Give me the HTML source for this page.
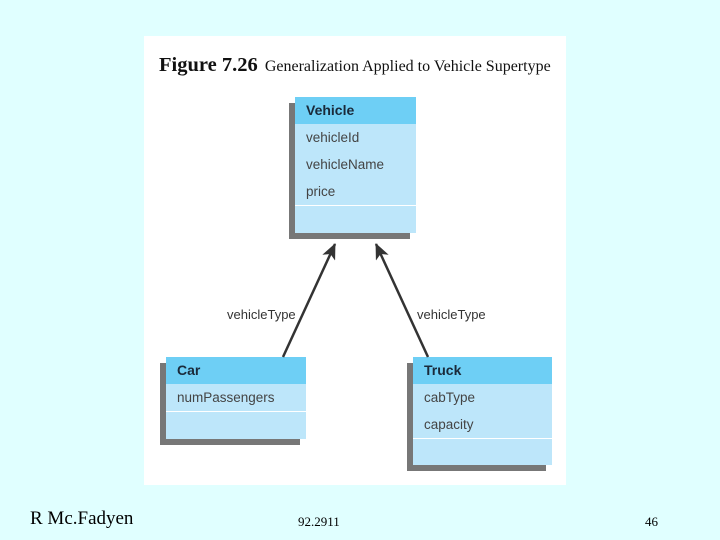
<!DOCTYPE html>
<html><head><style>
body{margin:0;width:720px;height:540px;background:#e0ffff;position:relative;overflow:hidden;font-family:"Liberation Sans",sans-serif}
.panel{position:absolute;left:144px;top:36px;width:422px;height:449px;background:#fff}
.box{position:absolute;background:#bde6fa;box-shadow:-6px 6px 0 #777}
.hd{background:#6ecff5;height:27px;line-height:27px;padding-left:11px;font-weight:bold;font-size:14px;color:#1a2a3a}
.row{height:27px;line-height:27px;padding-left:11px;font-size:13.5px;color:#444}
.div{border-top:1px solid #fff}
.t{position:absolute;white-space:nowrap}
</style></head><body>
<div class="panel"></div>
<div class="t" style="left:159px;top:54px;font-family:'Liberation Serif',serif;font-size:20.5px;color:#111"><b>Figure 7.26</b> <span style="font-size:16px;margin-left:2px">Generalization Applied to Vehicle Supertype</span></div>
<div class="box" style="left:295px;top:97px;width:121px;height:136px">
<div class="hd">Vehicle</div><div class="row">vehicleId</div><div class="row">vehicleName</div><div class="row">price</div><div class="div"></div></div>
<div class="box" style="left:166px;top:357px;width:140px;height:82px">
<div class="hd">Car</div><div class="row">numPassengers</div><div class="div"></div></div>
<div class="box" style="left:413px;top:357px;width:139px;height:108px">
<div class="hd">Truck</div><div class="row">cabType</div><div class="row">capacity</div><div class="div"></div></div>
<svg style="position:absolute;left:0;top:0" width="720" height="540">
<defs><marker id="a" markerWidth="16" markerHeight="14" refX="15" refY="7" orient="auto" markerUnits="userSpaceOnUse"><path d="M0,0 L16,7 L0,14 L4,7z" fill="#333"/></marker></defs>
<line x1="283" y1="357" x2="335" y2="244" stroke="#333" stroke-width="2.5" marker-end="url(#a)"/>
<line x1="428" y1="357" x2="376" y2="244" stroke="#333" stroke-width="2.5" marker-end="url(#a)"/>
</svg>
<div class="t" style="left:227px;top:307px;font-size:13px;color:#333">vehicleType</div>
<div class="t" style="left:417px;top:307px;font-size:13px;color:#333">vehicleType</div>
<div class="t" style="left:30px;top:508px;font-family:'Liberation Serif',serif;font-size:19px">R Mc.Fadyen</div>
<div class="t" style="left:298px;top:514px;font-family:'Liberation Serif',serif;font-size:13px">92.2911</div>
<div class="t" style="left:645px;top:514px;font-family:'Liberation Serif',serif;font-size:13px">46</div>
</body></html>
